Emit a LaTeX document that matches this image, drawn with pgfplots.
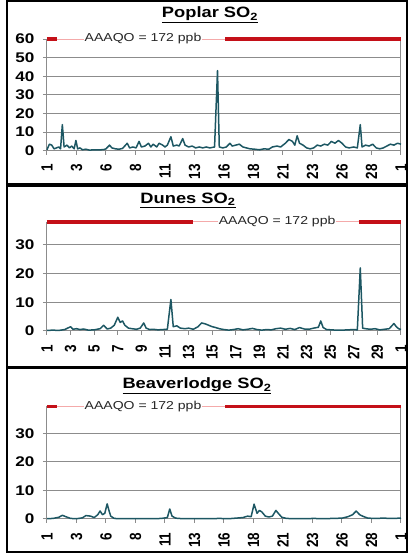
\documentclass[border=0pt]{standalone}
\usepackage{fontspec}
\setmainfont{Liberation Sans}[FakeStretch=1.22]
\newfontfamily\xlfont{Liberation Sans}
\usepackage{pgfplots}
\pgfplotsset{compat=1.18}
\usepackage{pgfplotstable}
\definecolor{teal1}{RGB}{29,87,99}
\definecolor{redl}{RGB}{196,16,24}
\definecolor{pinkl}{RGB}{244,170,170}
\colorlet{axgray}{black!45}

\pgfplotstableread{
x y
1 0.5
1.2 3.5
1.4 3
1.6 1
1.8 1.5
2.0 2
2.15 1
2.3 14
2.45 2
2.7 3
2.9 1.5
3.1 2.5
3.3 1
3.45 5.5
3.6 1
3.8 1.5
4.0 0.5
4.3 0.8
4.6 0.3
5.0 0.5
5.4 0.4
5.8 0.6
6.0 1
6.3 3
6.5 1.5
6.8 1
7.1 0.8
7.4 1.2
7.8 4
8.0 1.5
8.3 2
8.55 1.5
8.8 5
9.0 2
9.3 2.5
9.6 4
9.8 2
10.0 3.5
10.3 2
10.5 4
10.8 3
11.0 2
11.2 3
11.5 7.5
11.7 2.5
12.0 3
12.2 2.5
12.5 6.5
12.7 3
13.0 2
13.3 2.5
13.6 1.5
13.9 2
14.2 1.5
14.5 2
14.8 1.5
15.2 2
15.45 43
15.6 2
15.9 1.5
16.2 2
16.5 4
16.7 2.5
17.0 3
17.3 3.5
17.6 2
17.9 1.5
18.2 1
18.6 0.8
19.0 0.5
19.4 1
19.8 0.8
20.1 2
20.5 2.5
20.8 2
21.2 4
21.5 6
21.8 5
22.0 3
22.2 8
22.4 4
22.7 3
23.0 1.5
23.3 1
23.6 1.5
23.9 3
24.2 2.5
24.5 3.5
24.8 3
25.1 5
25.4 4
25.7 5.5
26.0 4
26.3 2
26.6 1.5
27.0 2
27.3 1.5
27.55 14
27.7 2
28.0 3
28.3 2.5
28.6 3.5
28.9 1.5
29.2 1
29.5 1.5
29.8 2.5
30.1 3.5
30.4 3
30.7 4
31 3.5
}\poplar

\pgfplotstableread{
x y
1 0.2
1.5 0.3
2.0 0.2
2.5 0.5
3.0 1.5
3.2 0.6
3.5 0.8
3.8 0.5
4.1 0.7
4.5 0.3
5.0 0.4
5.5 0.8
5.8 2
6.1 0.7
6.4 1
6.7 2
7.0 4.8
7.2 3
7.4 3.5
7.6 2
7.9 1
8.2 0.8
8.6 0.6
8.9 1
9.2 2.8
9.4 1
9.7 0.5
10.0 0.6
10.4 0.4
10.8 0.5
11.2 0.6
11.5 11
11.7 1.5
12.0 1.8
12.3 1
12.7 0.8
13.0 1
13.4 0.6
13.8 1.5
14.1 2.8
14.4 2.5
14.7 2
15.0 1.5
15.3 1.2
15.6 0.8
16.0 0.5
16.4 0.3
16.8 0.5
17.2 0.8
17.6 0.4
18.0 0.6
18.4 0.9
18.8 0.5
19.2 0.3
19.6 0.5
20.0 0.4
20.4 0.8
20.8 1
21.2 0.6
21.6 0.9
22.0 0.5
22.4 1.2
22.8 0.7
23.2 0.6
23.6 1
24.0 1.3
24.2 3.5
24.4 1.2
24.7 0.5
25.1 0.4
25.5 0.3
26.0 0.3
26.5 0.4
27.0 0.5
27.3 0.4
27.55 22
27.75 1
28.0 0.8
28.4 0.6
28.8 0.8
29.2 0.4
29.6 0.6
30.0 0.8
30.4 2.6
30.6 1.5
30.8 0.8
31 0.5
}\dunes

\pgfplotstableread{
x y
1 0.1
1.5 0.2
2.0 0.6
2.3 1.3
2.6 0.8
3.0 0.2
3.5 0.1
4.0 0.4
4.3 1.2
4.7 1
5.0 0.5
5.3 1.5
5.5 2.8
5.7 1.5
5.9 2
6.1 5.3
6.25 3
6.4 1
6.7 0.2
7.2 0.1
7.8 0.1
8.5 0.1
9.2 0.1
10.0 0.1
10.7 0.2
11.2 0.5
11.4 3.5
11.6 1
11.9 0.3
12.5 0.1
13.2 0.1
14.0 0.1
14.8 0.1
15.6 0.2
16.4 0.1
17.0 0.3
17.6 0.5
18.0 1
18.3 0.8
18.55 5.2
18.8 2
19.0 3
19.2 2.5
19.5 1
19.8 0.7
20.1 1
20.4 3
20.6 2
20.9 0.6
21.3 0.2
22.0 0.1
22.8 0.1
23.6 0.2
24.4 0.1
25.2 0.2
26.0 0.3
26.5 0.8
26.9 1.5
27.2 2.8
27.5 1.5
27.8 0.9
28.2 0.3
28.8 0.2
29.5 0.3
30.2 0.2
31 0.3
}\beaver

\pgfplotsset{
  panel/.style={
    scale only axis, width=354pt, xmin=1, xmax=31, ymin=0,
    axis lines*=left, axis line style={draw=axgray, line width=1pt},
    ymajorgrids=true, major grid style={draw=axgray, line width=1pt},
    tick align=outside, major tick length=4pt,
    tick style={draw=axgray, line width=1pt},
    /pgf/number format/assume math mode=true,
    yticklabel style={font=\bfseries\fontsize{14}{14}\selectfont, xshift=-5pt},
    xticklabel style={yshift=-6pt, rotate=90, anchor=east, yscale=1.2, font=\xlfont\bfseries\fontsize{13.5}{13.5}\selectfont},
    clip=false,
  },
}
\tikzset{
  datal/.style={teal1, line width=1.5pt, line join=round},
  redseg/.style={redl, line width=3.8pt},
  pinkseg/.style={pinkl, line width=1pt},
  gridl/.style={draw=axgray, line width=1pt},
  aaq/.style={fill=white, inner sep=1pt, text=black!85, font=\fontsize{11.5}{11.5}\selectfont},
}

\begin{document}
\begin{tikzpicture}
% panel frames
\draw[line width=2pt] (7pt,371pt) rectangle (407pt,554pt);
\draw[line width=2pt] (7pt,187.5pt) rectangle (407pt,368.5pt);
\draw[line width=2pt] (7pt,3pt) rectangle (407pt,186.5pt);

% titles
\node[font=\bfseries\fontsize{15}{15}\selectfont] at (210pt,540pt) {\underline{Poplar SO\textsubscript{2}}};
\node[font=\bfseries\fontsize{15}{15}\selectfont] at (188pt,355pt) {\underline{Dunes SO\textsubscript{2}}};
\node[font=\bfseries\fontsize{15}{15}\selectfont] at (197pt,169pt) {\underline{Beaverlodge SO\textsubscript{2}}};

% Poplar
\begin{axis}[panel, at={(47pt,404.3pt)}, anchor=south west, height=111.7pt, ymax=60,
  ytick={0,10,...,60},
  xtick={1,3.5,...,31}, xticklabels={1,3,6,8,11,13,16,18,21,23,26,28,1}]
\draw[gridl] (axis cs:1,10) -- (axis cs:31,10);
\draw[gridl] (axis cs:1,20) -- (axis cs:31,20);
\draw[gridl] (axis cs:1,30) -- (axis cs:31,30);
\draw[gridl] (axis cs:1,40) -- (axis cs:31,40);
\draw[gridl] (axis cs:1,50) -- (axis cs:31,50);
\draw[pinkseg] (axis cs:1,60) -- (axis cs:31,60);
\draw[gridl] (axis cs:31,0) -- (axis cs:31,60);
\addplot[datal] table[x=x,y=y] {\poplar};
\draw[redseg] (axis cs:1,60) -- (axis cs:1.85,60);
\draw[redseg] (axis cs:16.1,60) -- (axis cs:31,60);
\node[aaq] at (axis cs:9.14,60) {AAAQO = 172 ppb};
\end{axis}

% Dunes
\begin{axis}[panel, at={(47pt,224pt)}, anchor=south west, height=109pt, ymax=38,
  ytick={0,10,20,30},
  xtick={1,3,...,31}, xticklabels={1,3,5,7,9,11,13,15,17,19,21,23,25,27,29,1}]
\draw[gridl] (axis cs:1,10) -- (axis cs:31,10);
\draw[gridl] (axis cs:1,20) -- (axis cs:31,20);
\draw[gridl] (axis cs:1,30) -- (axis cs:31,30);
\draw[pinkseg] (axis cs:1,38) -- (axis cs:31,38);
\draw[gridl] (axis cs:31,0) -- (axis cs:31,38);
\addplot[datal] table[x=x,y=y] {\dunes};
\draw[redseg] (axis cs:1,38) -- (axis cs:13.4,38);
\draw[redseg] (axis cs:27.4,38) -- (axis cs:31,38);
\node[aaq] at (axis cs:20.5,38) {AAAQO = 172 ppb};
\end{axis}

% Beaverlodge
\begin{axis}[panel, at={(47pt,36pt)}, anchor=south west, height=112.5pt, ymax=39.4,
  ytick={0,10,20,30},
  xtick={1,3.5,...,31}, xticklabels={1,3,6,8,11,13,16,18,21,23,26,28,1}]
\draw[gridl] (axis cs:1,10) -- (axis cs:31,10);
\draw[gridl] (axis cs:1,20) -- (axis cs:31,20);
\draw[gridl] (axis cs:1,30) -- (axis cs:31,30);
\draw[pinkseg] (axis cs:1,39.4) -- (axis cs:31,39.4);
\draw[gridl] (axis cs:31,0) -- (axis cs:31,39.4);
\addplot[datal] table[x=x,y=y] {\beaver};
\draw[redseg] (axis cs:1,39.4) -- (axis cs:1.85,39.4);
\draw[redseg] (axis cs:16.1,39.4) -- (axis cs:31,39.4);
\node[aaq] at (axis cs:9.14,39.4) {AAAQO = 172 ppb};
\end{axis}

\pgfresetboundingbox
\path[use as bounding box] (0pt,0pt) rectangle (410pt,555pt);
\end{tikzpicture}
\end{document}
